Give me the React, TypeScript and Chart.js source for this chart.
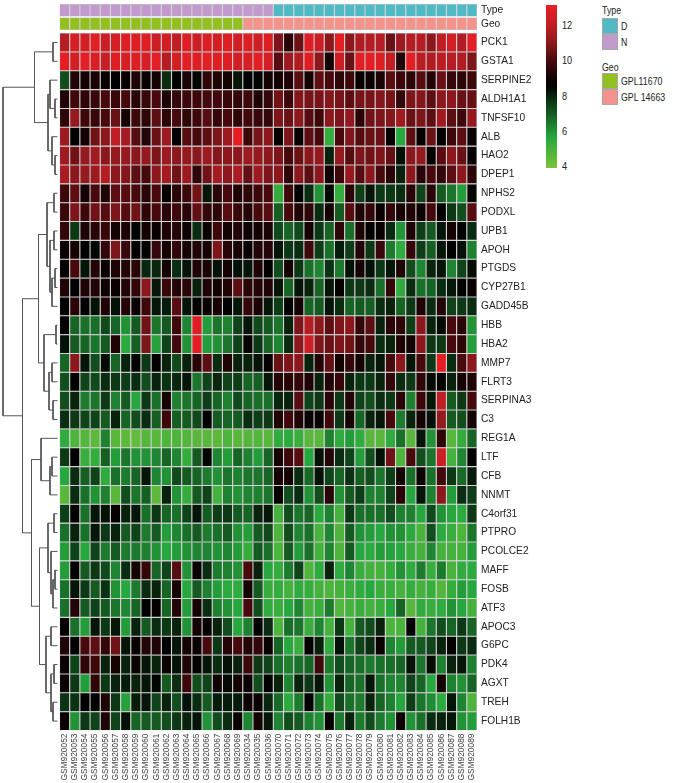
import React, { useEffect, useRef } from "react";
import { Chart, registerables } from "chart.js";

Chart.register(...registerables);

// ---------------- data ----------------
const samples = [
  "GSM920052", "GSM920053", "GSM920054", "GSM920055", "GSM920056", "GSM920057", "GSM920058",
  "GSM920059", "GSM920060", "GSM920061", "GSM920062", "GSM920063", "GSM920064", "GSM920065",
  "GSM920066", "GSM920067", "GSM920068", "GSM920069", "GSM920034", "GSM920035", "GSM920036",
  "GSM920070", "GSM920071", "GSM920072", "GSM920073", "GSM920074", "GSM920075", "GSM920076",
  "GSM920077", "GSM920078", "GSM920079", "GSM920080", "GSM920081", "GSM920082", "GSM920083",
  "GSM920084", "GSM920085", "GSM920086", "GSM920087", "GSM920088", "GSM920089",
];

const genes = [
  "PCK1", "GSTA1", "SERPINE2", "ALDH1A1", "TNFSF10", "ALB", "HAO2", "DPEP1", "NPHS2", "PODXL",
  "UPB1", "APOH", "PTGDS", "CYP27B1", "GADD45B", "HBB", "HBA2", "MMP7", "FLRT3", "SERPINA3",
  "C3", "REG1A", "LTF", "CFB", "NNMT", "C4orf31", "PTPRO", "PCOLCE2", "MAFF", "FOSB", "ATF3",
  "APOC3", "G6PC", "PDK4", "AGXT", "TREH", "FOLH1B",
];

const sampleType = [
  "N", "N", "N", "N", "N", "N", "N", "N", "N", "N", "N", "N", "N", "N", "N", "N", "N", "N", "N", "N", "N",
  "D", "D", "D", "D", "D", "D", "D", "D", "D", "D", "D", "D", "D", "D", "D", "D", "D", "D", "D", "D",
];

const sampleGeo = [
  "GPL11670", "GPL11670", "GPL11670", "GPL11670", "GPL11670", "GPL11670", "GPL11670", "GPL11670", "GPL11670",
  "GPL11670", "GPL11670", "GPL11670", "GPL11670", "GPL11670", "GPL11670", "GPL11670", "GPL11670", "GPL11670",
  "GPL 14663", "GPL 14663", "GPL 14663", "GPL 14663", "GPL 14663", "GPL 14663", "GPL 14663", "GPL 14663",
  "GPL 14663", "GPL 14663", "GPL 14663", "GPL 14663", "GPL 14663", "GPL 14663", "GPL 14663", "GPL 14663",
  "GPL 14663", "GPL 14663", "GPL 14663", "GPL 14663", "GPL 14663", "GPL 14663", "GPL 14663",
];

// expression values, one row per gene (same order as genes), one column per sample
const expression: number[][] = [
  [11.8,12.6,12.5,12.9,12.3,12.6,12.8,12.8,12.8,12.3,12.5,12.0,12.8,12.3,12.8,12.5,12.8,12.4,12.8,12.4,12.8, 10.8,9.4,10.5,12.8,12.3,11.0,13.0,11.0,11.7,11.8,11.8,10.5,11.3,11.8,11.8,11.0,12.0,12.5,11.7,12.9],
  [13.0,12.5,12.9,12.7,12.2,12.8,12.6,12.8,12.6,12.9,11.8,12.5,12.9,12.8,12.9,12.8,12.8,12.4,12.6,12.9,12.5, 10.2,11.3,11.7,12.8,11.0,9.0,12.3,10.5,12.9,13.0,12.8,12.0,9.3,13.0,11.9,11.7,11.9,11.8,11.7,10.8],
  [7.2,9.3,9.0,9.1,8.8,8.6,8.8,9.2,8.8,9.0,7.8,8.6,9.1,8.5,9.5,9.2,9.0,8.2,8.6,8.5,9.0, 9.0,9.2,10.2,9.0,10.3,10.0,9.5,9.8,8.7,8.8,9.1,10.3,9.7,9.5,10.2,9.3,10.5,9.6,9.5,9.8],
  [9.2,9.8,9.5,9.7,10.0,9.7,10.0,9.4,9.7,10.0,9.2,9.6,9.8,9.8,9.9,9.9,9.7,9.6,9.8,9.2,9.6, 10.6,9.7,10.9,10.7,10.7,10.9,10.7,10.3,10.7,10.7,10.9,10.7,9.6,10.8,10.9,10.3,11.0,11.0,10.5,10.4],
  [9.5,11.2,9.8,9.7,10.0,10.5,9.0,9.8,9.5,10.3,9.5,10.0,9.5,9.8,10.2,9.6,10.0,9.5,9.9,9.7,9.6, 10.8,10.5,11.0,10.2,9.8,11.0,10.8,11.1,9.4,10.6,10.8,10.9,11.4,10.5,10.8,10.3,11.4,10.3,9.8,11.2],
  [11.3,8.6,9.0,10.6,11.0,12.0,11.5,10.2,9.3,10.5,11.3,8.6,10.2,10.0,10.3,10.8,11.3,13.0,9.8,10.7,11.0, 8.7,10.8,8.8,10.3,10.0,5.3,10.0,10.8,10.2,10.5,10.5,8.7,5.6,10.3,8.7,10.5,8.6,9.8,10.3,8.8],
  [11.3,10.6,11.2,11.4,11.0,11.2,11.2,11.0,11.2,10.8,11.3,11.0,11.2,11.0,11.3,10.9,11.0,11.0,11.3,11.2,11.0, 10.8,10.0,10.5,11.0,11.2,8.0,11.2,10.2,10.8,10.6,10.8,10.4,8.3,11.0,11.2,8.6,10.2,11.0,10.5,8.7],
  [11.6,11.0,11.2,11.3,11.8,11.0,10.9,10.3,10.0,11.0,11.5,10.6,11.3,9.5,10.6,11.5,11.0,11.6,10.4,11.3,10.8, 11.0,9.5,11.0,10.3,11.0,8.9,9.8,11.2,10.2,11.0,10.0,9.4,8.0,11.0,9.4,10.0,9.6,10.3,11.0,9.5],
  [9.8,10.3,9.0,10.0,9.2,10.3,10.2,10.0,9.4,10.0,8.7,9.4,9.8,10.6,8.2,9.4,10.0,9.2,9.5,9.8,10.0, 5.3,9.8,8.6,7.8,6.0,8.4,5.3,9.4,7.5,8.2,7.6,7.6,7.8,9.4,7.4,9.4,7.0,6.5,5.8,8.5],
  [9.7,10.8,9.8,10.6,10.2,10.8,10.2,10.6,9.5,10.0,9.4,9.8,9.4,10.4,9.6,9.5,10.2,9.7,9.3,10.0,10.2, 6.9,10.0,9.2,9.5,7.8,9.0,7.0,10.2,9.2,9.6,8.8,9.6,9.0,9.2,8.9,9.9,8.6,7.6,7.2,10.2],
  [9.6,7.6,9.2,9.4,9.7,9.0,9.2,8.5,9.0,8.8,9.2,9.3,8.9,7.8,8.8,9.8,9.0,9.3,8.9,9.0,9.1, 7.3,6.8,7.3,9.0,7.6,6.8,9.5,6.6,9.2,8.6,8.8,7.8,5.9,9.2,7.5,7.0,8.2,9.0,8.6,7.8],
  [8.8,9.0,8.6,8.5,9.6,10.8,9.7,8.7,8.6,9.6,9.0,9.6,9.0,9.2,9.0,10.8,9.4,9.1,8.8,9.3,9.3, 8.2,7.6,7.8,9.8,7.5,6.6,8.1,7.5,9.3,7.6,9.7,6.4,5.4,9.6,7.5,6.9,8.2,8.6,8.3,6.3],
  [8.7,10.0,8.2,9.3,8.8,9.2,9.3,9.4,7.9,7.9,9.0,7.8,8.2,9.2,9.1,8.3,9.0,8.3,8.2,9.2,8.6, 7.2,9.0,7.6,6.6,6.2,7.7,6.4,8.3,9.0,8.3,7.6,8.2,9.2,7.2,6.2,8.0,8.2,6.2,7.4,8.4],
  [9.2,8.6,9.2,9.3,8.9,8.8,9.3,9.6,11.0,8.2,9.7,9.3,9.4,8.0,9.2,9.0,9.2,10.3,9.4,9.3,9.2, 8.2,6.8,8.2,8.0,6.8,8.2,8.7,7.6,7.6,7.8,6.6,9.6,5.4,7.8,6.6,6.8,7.8,8.2,8.6,8.8],
  [8.6,9.4,8.6,8.3,9.2,8.3,9.3,8.8,9.8,8.2,8.1,10.2,8.2,8.6,8.8,9.0,8.6,8.2,9.6,9.1,8.2, 7.5,8.6,9.0,6.8,7.0,8.2,7.8,6.8,7.0,6.9,7.8,8.0,6.8,7.6,9.2,7.8,9.3,7.4,7.6,7.8],
  [8.6,6.8,6.6,6.6,7.3,6.8,6.0,7.0,10.6,6.5,7.0,9.8,6.2,12.8,5.8,6.5,6.3,7.4,8.2,7.3,7.0, 6.5,8.0,10.8,11.8,11.0,10.3,10.8,11.0,9.6,10.3,8.0,9.4,9.5,7.5,11.0,8.0,8.4,10.0,9.4,6.0],
  [8.3,7.0,6.8,6.5,7.0,9.2,5.5,6.9,10.8,5.7,7.4,9.9,6.0,13.0,5.8,6.0,6.5,7.4,8.7,7.6,6.8, 6.2,7.8,11.0,12.3,10.8,10.5,10.8,10.6,9.6,10.0,7.8,8.0,9.2,9.0,11.0,7.6,7.6,10.0,9.5,5.8],
  [6.8,11.0,8.2,7.2,8.4,6.8,8.0,8.6,7.6,8.7,8.0,7.3,8.0,9.4,10.3,7.8,9.2,8.0,8.0,8.2,8.7, 10.5,10.8,11.0,8.0,9.3,10.4,9.0,9.6,9.0,8.0,8.2,10.0,11.0,8.2,10.0,7.6,13.0,7.8,10.0,11.0],
  [7.2,8.6,7.4,7.3,7.8,7.6,7.5,7.8,7.2,8.0,7.7,7.9,8.2,6.5,7.4,7.9,7.4,7.5,6.8,6.9,8.2, 9.3,9.4,9.6,9.2,8.0,9.3,9.6,8.0,7.6,7.6,8.0,9.6,7.8,7.6,9.5,8.4,8.7,8.0,9.0,9.2],
  [7.2,8.0,6.4,6.5,7.6,6.3,7.0,5.6,7.6,6.6,9.0,6.3,6.5,6.8,7.5,6.8,6.3,7.3,6.8,6.6,6.6, 7.9,8.0,10.2,7.4,7.6,9.4,7.6,9.3,7.4,7.2,7.8,7.6,9.4,6.3,9.8,8.2,12.0,7.0,7.6,10.0],
  [7.8,7.6,7.4,7.4,7.0,8.0,6.8,7.2,7.8,6.9,9.8,6.9,7.0,7.3,8.6,7.0,6.8,7.0,7.8,7.5,7.6, 9.2,9.8,9.2,8.8,8.7,9.8,7.6,9.0,6.8,8.0,8.2,10.0,6.4,8.0,9.0,8.3,11.2,7.0,7.2,9.0],
  [5.4,4.8,4.7,4.5,6.3,4.6,4.5,4.4,4.7,4.6,4.8,4.8,4.7,4.6,4.6,4.5,4.8,4.6,4.7,4.7,4.6, 5.4,5.5,5.2,4.6,4.6,6.3,5.4,5.8,5.4,4.6,4.6,5.4,6.6,4.6,8.2,6.0,9.5,4.6,5.3,6.8],
  [7.6,8.6,5.2,5.3,6.9,5.8,6.5,6.0,6.0,6.2,6.8,6.2,5.3,7.0,8.5,6.2,5.8,6.8,6.3,5.8,6.8, 9.0,9.8,10.2,5.6,8.3,9.3,7.8,7.4,5.8,7.2,8.3,10.6,4.8,10.0,7.2,6.5,12.3,5.0,6.2,8.6],
  [5.6,7.8,6.9,7.4,5.4,6.6,6.4,6.8,8.2,6.2,6.0,7.3,7.0,6.8,6.4,6.0,6.5,6.3,6.5,6.5,6.8, 9.0,9.0,7.8,6.7,8.3,7.4,6.8,7.7,6.9,7.2,6.5,7.5,9.0,6.6,8.9,6.6,9.9,7.6,6.7,8.1],
  [4.6,7.8,6.6,6.0,6.3,4.6,7.2,6.5,6.9,4.5,8.0,6.0,5.3,7.0,7.4,5.0,6.3,6.0,6.2,6.3,6.5, 8.8,7.2,7.8,6.0,7.2,9.4,6.0,7.0,7.5,6.3,6.3,7.4,9.4,5.6,8.2,6.3,11.0,5.8,7.8,7.5],
  [7.5,8.6,6.6,8.2,8.3,8.7,8.0,8.2,6.6,7.6,6.8,6.6,7.4,8.2,7.0,7.5,7.6,7.0,6.8,8.0,8.2, 5.0,7.2,6.5,6.8,5.5,6.3,5.0,7.6,6.6,6.6,6.6,7.2,6.3,6.3,5.6,7.3,6.0,5.6,5.5,7.6],
  [6.6,8.0,6.6,8.2,7.6,8.0,7.0,7.4,6.4,7.0,5.8,6.2,6.6,7.0,6.4,6.6,7.0,6.0,5.8,7.0,7.3, 4.8,7.2,6.2,6.6,4.9,6.2,4.8,7.0,6.0,5.8,5.6,6.0,6.0,5.5,4.9,7.2,5.5,5.2,4.8,6.5],
  [5.8,7.4,5.6,7.4,6.4,7.0,6.4,6.4,6.3,6.0,5.6,5.8,6.0,6.2,6.2,6.0,6.2,5.8,5.3,7.0,6.6, 4.8,7.0,5.8,6.6,5.0,6.2,4.8,7.0,5.6,5.5,5.8,5.7,5.6,5.2,5.0,6.2,5.0,5.0,5.0,5.8],
  [5.8,8.6,7.0,7.6,7.3,6.2,7.8,9.0,9.6,6.8,7.4,10.2,6.0,8.8,7.8,6.4,6.3,6.0,10.0,8.0,5.6, 5.3,6.4,7.4,4.8,5.5,8.0,5.4,6.2,5.2,5.0,5.0,5.3,6.0,5.4,6.4,5.2,6.4,4.9,5.4,5.5],
  [6.6,8.2,7.6,7.0,7.7,6.0,5.6,6.4,7.8,8.0,6.8,9.0,5.6,7.0,6.3,5.8,5.5,5.4,9.0,7.0,5.3, 5.3,5.0,5.4,5.3,5.0,4.8,5.0,5.2,5.4,5.6,5.2,5.2,5.0,5.3,5.0,5.2,4.7,5.3,5.8,5.6],
  [6.6,9.3,7.0,7.4,7.0,6.5,6.2,6.8,8.6,8.7,6.8,9.3,5.8,9.0,7.8,6.3,6.0,5.6,10.0,7.2,5.4, 5.2,5.6,6.2,5.0,5.2,6.4,4.7,5.0,5.2,5.0,5.2,5.6,6.8,4.6,5.4,5.2,5.4,6.0,5.6,5.0],
  [8.6,6.6,5.8,8.2,7.6,8.2,5.8,8.0,7.0,7.8,7.6,8.0,6.0,9.0,8.7,8.0,7.2,5.6,6.3,8.6,7.8, 4.8,6.6,6.5,5.2,6.2,5.0,7.6,5.0,7.0,7.2,8.0,4.8,4.9,8.6,5.0,6.5,7.2,6.8,7.6,6.8],
  [9.2,8.6,10.0,10.3,9.6,10.6,8.2,8.8,9.3,9.2,8.6,8.2,9.0,8.8,10.0,7.6,9.3,10.0,9.3,9.6,8.8, 6.8,5.6,5.2,8.7,8.0,5.4,8.3,6.5,7.4,7.8,8.8,6.2,5.8,7.0,7.0,7.4,8.0,8.7,7.6,7.8],
  [8.8,7.4,9.5,9.8,8.0,9.0,8.0,8.8,8.2,8.0,8.8,8.3,9.2,8.7,8.2,7.8,8.3,8.0,9.8,7.6,7.4, 6.6,6.3,6.6,6.8,9.8,6.4,7.2,6.8,6.6,6.4,6.6,6.6,6.8,8.2,6.5,8.4,6.3,8.0,8.2,6.3],
  [8.8,7.6,5.8,9.5,7.6,8.0,8.1,8.0,8.2,8.5,7.0,7.8,9.8,7.2,7.4,8.9,8.4,9.0,8.8,7.2,8.6, 8.0,6.2,8.0,7.6,8.2,6.0,8.0,6.8,6.6,8.2,6.6,6.2,6.2,7.4,6.8,5.6,9.0,6.3,6.0,6.8],
  [7.7,7.7,8.6,8.6,9.2,7.6,5.7,8.1,8.2,7.4,8.0,7.2,8.3,7.8,7.0,8.1,8.1,8.1,8.8,8.8,7.9, 6.7,5.5,6.4,8.6,6.6,5.3,7.3,6.6,6.4,8.0,6.8,6.3,5.6,7.5,6.5,6.1,5.5,8.2,6.2,4.8],
  [8.8,6.0,7.6,7.4,9.2,7.4,8.3,6.8,7.0,7.0,7.2,7.6,8.0,8.2,6.0,7.2,7.8,8.8,6.2,9.0,8.2, 6.2,7.2,7.0,6.3,6.0,8.7,6.4,8.0,6.4,7.2,6.4,6.0,8.9,6.0,6.6,7.8,8.0,8.2,6.0,5.8],
];

// row dendrogram, hclust style: negative = gene (1-based), positive = earlier merge (1-based)
const mergeLeft = [-1, -4, -3, -7, -6, 3, 1, -9, -11, -13, 10, 9, 8, -16, -18, -20, 15, 14, 13, -23, 20, -22, -26, -29, 24, -28, 23, -32, -34, -36, 29, 28, 27, 22, 19, 7];
const mergeRight = [-2, -5, 2, -8, 4, 5, 6, -10, -12, -14, -15, 11, 12, -17, -19, -21, 16, 17, 18, -24, -25, 21, -27, -30, -31, 25, 26, -33, -35, -37, 30, 31, 32, 33, 34, 35];
const mergeHeight = [4.5, 2.5, 7.5, 2.5, 5.5, 9.5, 23, 3.5, 3.5, 2.5, 5.5, 7.5, 10.5, 1.5, 5.5, 4.5, 8.5, 13.5, 19, 5.5, 7.5, 16.5, 3.5, 2.5, 4.5, 6.5, 9.5, 6.5, 3.5, 4.5, 6.5, 11.5, 18, 26, 35, 54.5];

const colorbarTicks = [12, 10, 8, 6, 4];

// ---------------- styling ----------------
const FONT = "'Liberation Sans', Arial, sans-serif";
const typeColors: Record<string, string> = { D: "#4FBAC6", N: "#C29BCC" };
const geoColors: Record<string, string> = { GPL11670: "#92C020", "GPL 14663": "#F3938B" };
const colorStops = [
  { v: 3.9, c: [124, 195, 58] },
  { v: 5.6, c: [38, 168, 62] },
  { v: 8.6, c: [0, 0, 0] },
  { v: 10.0, c: [72, 9, 13] },
  { v: 11.0, c: [140, 24, 30] },
  { v: 12.0, c: [192, 30, 36] },
  { v: 13.2, c: [238, 30, 36] },
];

function colorFor(v: number): string {
  const s = colorStops;
  if (v <= s[0].v) return `rgb(${s[0].c.join(",")})`;
  for (let i = 1; i < s.length; i++) {
    if (v <= s[i].v) {
      const t = (v - s[i - 1].v) / (s[i].v - s[i - 1].v);
      const c = s[i].c.map((x, k) => Math.round(s[i - 1].c[k] + (x - s[i - 1].c[k]) * t));
      return `rgb(${c.join(",")})`;
    }
  }
  return `rgb(${s[s.length - 1].c.join(",")})`;
}

const W = 674;
const H = 783;
const HEAT_CANVAS_W = 540;
const HEAT_LEFT = 59.5;
const HEAT_RIGHT = 477;
const CHART_TOP = 4;
const X_AXIS_H = 52.5;
const Y_MIN = -1.54;
const Y_MAX = 37;
const TYPE_SPAN = [-1.54, -0.875];
const GEO_SPAN = [-0.82, -0.16];
const DENDRO_W = 60;
const DENDRO_RIGHT_PAD = 2.5;
const DENDRO_MAX = 57.5;

const BAR_TOP = 5;
const BAR_H = 163;
const BAR_VMAX = 13.14;
const BAR_VMIN = 3.89;

function HeatmapChart() {
  const ref = useRef<HTMLCanvasElement>(null);
  useEffect(() => {
    const common = {
      grouped: false,
      barPercentage: 1,
      categoryPercentage: 1,
      borderWidth: 0.55,
      borderColor: "#9a9a9a",
      borderSkipped: false,
      inflateAmount: 0,
    };
    const datasets: any[] = [
      { label: "Type", data: samples.map(() => TYPE_SPAN), backgroundColor: sampleType.map((t) => typeColors[t]), ...common },
      { label: "Geo", data: samples.map(() => GEO_SPAN), backgroundColor: sampleGeo.map((g) => geoColors[g]), ...common },
      ...genes.map((g, r) => ({
        label: g,
        data: samples.map(() => [r, r + 1]),
        backgroundColor: expression[r].map(colorFor),
        ...common,
      })),
    ];
    const yTickValues = [
      (TYPE_SPAN[0] + TYPE_SPAN[1]) / 2,
      (GEO_SPAN[0] + GEO_SPAN[1]) / 2,
      ...genes.map((_, r) => r + 0.5),
    ];
    const yTickLabels = ["Type", "Geo", ...genes];
    const chart = new Chart(ref.current!, {
      type: "bar",
      data: { labels: samples, datasets },
      options: {
        responsive: false,
        animation: false,
        devicePixelRatio: 1,
        layout: { padding: { left: HEAT_LEFT, top: CHART_TOP, right: 0, bottom: 0 } },
        plugins: { legend: { display: false }, tooltip: { enabled: false } },
        scales: {
          x: {
            type: "category",
            grid: { display: false, drawTicks: false },
            border: { display: false },
            ticks: {
              autoSkip: false,
              maxRotation: 90,
              minRotation: 90,
              padding: 3,
              color: "#3c3c3c",
              font: { family: FONT, size: 8.4 },
            },
            afterFit: (s: any) => {
              s.height = X_AXIS_H;
              s.paddingLeft = 0;
              s.paddingRight = 0;
            },
          },
          y: {
            type: "linear",
            position: "right",
            min: Y_MIN,
            max: Y_MAX,
            reverse: true,
            grid: { display: false, drawTicks: false },
            border: { display: false },
            afterBuildTicks: (s: any) => {
              s.ticks = yTickValues.map((v) => ({ value: v }));
            },
            ticks: {
              autoSkip: false,
              padding: 4,
              color: "#222",
              font: { family: FONT, size: 10.2 },
              callback: (_v: any, i: number) => yTickLabels[i],
            },
            afterFit: (s: any) => {
              s.width = HEAT_CANVAS_W - HEAT_RIGHT;
              s.paddingTop = 0;
              s.paddingBottom = 0;
            },
          },
        },
      } as any,
    });
    return () => chart.destroy();
  }, []);
  return (
    <canvas
      ref={ref}
      width={HEAT_CANVAS_W}
      height={H}
      style={{ position: "absolute", left: 0, top: 0, width: HEAT_CANVAS_W, height: H }}
    />
  );
}

function DendrogramChart() {
  const ref = useRef<HTMLCanvasElement>(null);
  useEffect(() => {
    const nodeY: number[] = [];
    const nodeH: number[] = [];
    const pos = (id: number) => (id < 0 ? { y: -id - 0.5, h: 0 } : { y: nodeY[id - 1], h: nodeH[id - 1] });
    const datasets: any[] = [];
    for (let i = 0; i < mergeLeft.length; i++) {
      const a = pos(mergeLeft[i]);
      const b = pos(mergeRight[i]);
      const hh = mergeHeight[i];
      nodeY.push((a.y + b.y) / 2);
      nodeH.push(hh);
      datasets.push({
        data: [
          { x: a.h, y: a.y },
          { x: hh, y: a.y },
          { x: hh, y: b.y },
          { x: b.h, y: b.y },
        ],
        showLine: true,
        borderColor: "#555",
        borderWidth: 1,
        pointRadius: 0,
        tension: 0,
        fill: false,
        clip: false,
      });
    }
    const chart = new Chart(ref.current!, {
      type: "scatter",
      data: { datasets },
      options: {
        responsive: false,
        animation: false,
        devicePixelRatio: 1,
        layout: { padding: { left: 0, right: DENDRO_RIGHT_PAD, top: CHART_TOP, bottom: X_AXIS_H } },
        plugins: { legend: { display: false }, tooltip: { enabled: false } },
        scales: {
          x: { type: "linear", min: 0, max: DENDRO_MAX, reverse: true, display: false },
          y: { type: "linear", min: Y_MIN, max: Y_MAX, reverse: true, display: false },
        },
      } as any,
    });
    return () => chart.destroy();
  }, []);
  return (
    <canvas
      ref={ref}
      width={DENDRO_W}
      height={H}
      style={{ position: "absolute", left: 0, top: 0, width: DENDRO_W, height: H, pointerEvents: "none" }}
    />
  );
}

function Text({ x, cy, children, size = 11 }: { x: number; cy: number; children: React.ReactNode; size?: number }) {
  return (
    <div
      style={{
        position: "absolute",
        left: x,
        top: cy - 7,
        height: 14,
        lineHeight: "14px",
        fontFamily: FONT,
        fontSize: size,
        color: "#222",
        whiteSpace: "nowrap",
        transform: "scaleX(0.8)",
        transformOrigin: "left center",
      }}
    >
      {children}
    </div>
  );
}

function Box({ x, y, color }: { x: number; y: number; color: string }) {
  return (
    <div
      style={{
        position: "absolute",
        left: x,
        top: y,
        width: 16,
        height: 16,
        boxSizing: "border-box",
        background: color,
        border: "1px solid #a8a8a8",
      }}
    />
  );
}

function Legends() {
  const steps = 30;
  const grad: string[] = [];
  for (let k = 0; k <= steps; k++) {
    const v = BAR_VMAX - ((BAR_VMAX - BAR_VMIN) * k) / steps;
    grad.push(`${colorFor(v)} ${((100 * k) / steps).toFixed(2)}%`);
  }
  const yOf = (v: number) => BAR_TOP + ((BAR_VMAX - v) / (BAR_VMAX - BAR_VMIN)) * BAR_H;
  return (
    <>
      <div
        style={{
          position: "absolute",
          left: 546,
          top: BAR_TOP,
          width: 11,
          height: BAR_H,
          background: `linear-gradient(to bottom, ${grad.join(", ")})`,
        }}
      />
      {colorbarTicks.map((t) => (
        <Text key={t} x={562} cy={yOf(t)} size={11.5}>
          {t}
        </Text>
      ))}
      <Text x={602} cy={10}>Type</Text>
      <Box x={602} y={17.5} color={typeColors.D} />
      <Box x={602} y={33.5} color={typeColors.N} />
      <Text x={621} cy={25.5}>D</Text>
      <Text x={621} cy={41.5}>N</Text>
      <Text x={602} cy={66.5}>Geo</Text>
      <Box x={602} y={73} color={geoColors.GPL11670} />
      <Box x={602} y={89} color={geoColors["GPL 14663"]} />
      <Text x={621} cy={81}>GPL11670</Text>
      <Text x={621} cy={97}>GPL 14663</Text>
    </>
  );
}

export default function App() {
  return (
    <div style={{ position: "absolute", left: 0, top: 0, width: W, height: H, background: "#fff", overflow: "hidden" }}>
      <HeatmapChart />
      <DendrogramChart />
      <Legends />
    </div>
  );
}
